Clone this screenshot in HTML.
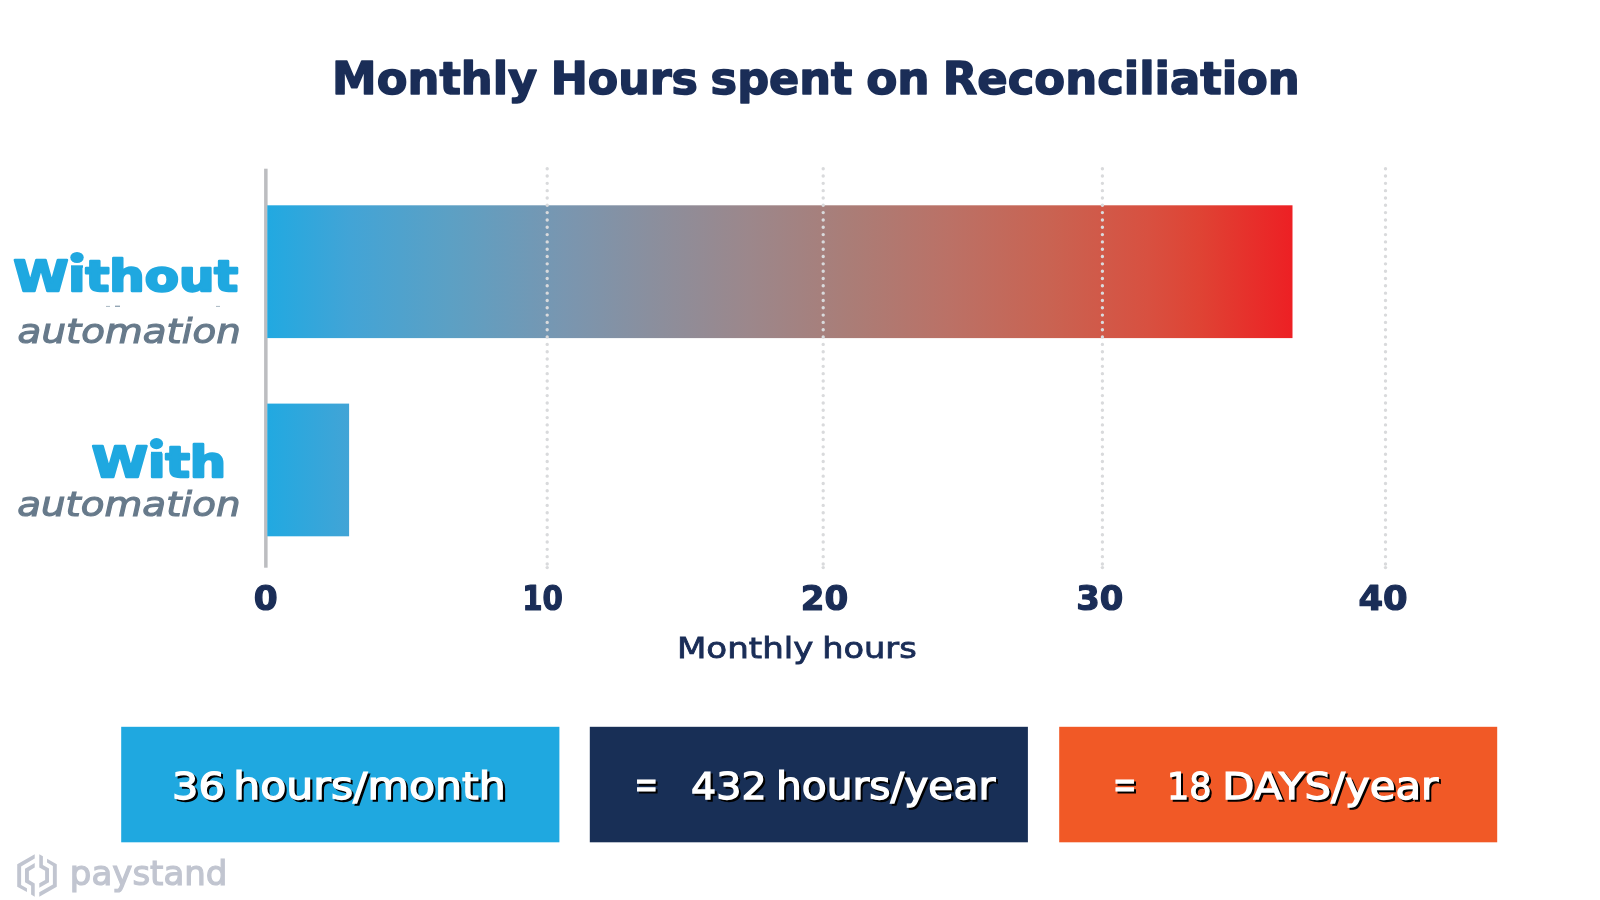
<!DOCTYPE html>
<html><head><meta charset="utf-8"><title>Monthly Hours spent on Reconciliation</title>
<style>
html,body{margin:0;padding:0;background:#fff;}
body{width:1600px;height:900px;overflow:hidden;position:relative;}
svg{position:absolute;left:0;top:0;display:block;will-change:transform;}
text{font-family:"DejaVu Sans","Liberation Sans",Arial,sans-serif;}
</style></head><body>
<svg width="1600" height="900" viewBox="0 0 1600 900">
<defs>
<linearGradient id="g" gradientUnits="userSpaceOnUse" x1="267" y1="0" x2="1292" y2="0">
<stop offset="0.0000" stop-color="#21A9E1"/>
<stop offset="0.0807" stop-color="#42A4D6"/>
<stop offset="0.1782" stop-color="#5CA0C4"/>
<stop offset="0.2904" stop-color="#7996B0"/>
<stop offset="0.3733" stop-color="#8A8F9E"/>
<stop offset="0.4708" stop-color="#9C878B"/>
<stop offset="0.5684" stop-color="#AA7D77"/>
<stop offset="0.6659" stop-color="#BB7166"/>
<stop offset="0.7635" stop-color="#C96352"/>
<stop offset="0.8610" stop-color="#D85040"/>
<stop offset="0.9098" stop-color="#DF4334"/>
<stop offset="1.0000" stop-color="#ED2024"/>
</linearGradient>
</defs>
<!-- title -->
<text id="tw1" x="332.13" y="94.4" font-size="44.5" font-weight="700" fill="#1A2D57" stroke="#1A2D57" stroke-width="1.5" stroke-linejoin="round" lengthAdjust="spacingAndGlyphs" textLength="205.12">Monthly</text>
<text id="tw2" x="550.63" y="94.4" font-size="44.5" font-weight="700" fill="#1A2D57" stroke="#1A2D57" stroke-width="1.5" stroke-linejoin="round" lengthAdjust="spacingAndGlyphs" textLength="147.29">Hours</text>
<text id="tw3" x="710.62" y="94.4" font-size="44.5" font-weight="700" fill="#1A2D57" stroke="#1A2D57" stroke-width="1.5" stroke-linejoin="round" lengthAdjust="spacingAndGlyphs" textLength="141.71">spent</text>
<text id="tw4" x="866.15" y="94.4" font-size="44.5" font-weight="700" fill="#1A2D57" stroke="#1A2D57" stroke-width="1.5" stroke-linejoin="round" lengthAdjust="spacingAndGlyphs" textLength="63.56">on</text>
<text id="tw5" x="942.78" y="94.4" font-size="44.5" font-weight="700" fill="#1A2D57" stroke="#1A2D57" stroke-width="1.5" stroke-linejoin="round" lengthAdjust="spacingAndGlyphs" textLength="357.06">Reconciliation</text>

<!-- axis -->
<rect x="264.1" y="168.7" width="3.5" height="399" fill="#BCBDC0"/>
<!-- bars -->
<rect x="267.3" y="205.3" width="1025.2" height="132.8" fill="url(#g)"/>
<rect x="267.3" y="403.6" width="81.8" height="132.7" fill="url(#g)"/>
<!-- grid dots -->
<g stroke="#D9DADC" stroke-width="3.4" stroke-linecap="round" stroke-dasharray="0 7.32" fill="none">
<line x1="547.2" y1="168.7" x2="547.2" y2="568"/>
<line x1="823.2" y1="168.7" x2="823.2" y2="568"/>
<line x1="1102.4" y1="168.7" x2="1102.4" y2="568"/>
<line x1="1385.5" y1="168.7" x2="1385.5" y2="568"/>
</g>
<g fill="#D9DADC">
<circle cx="547.2" cy="567.6" r="1.7"/>
<circle cx="823.2" cy="567.6" r="1.7"/>
<circle cx="1102.4" cy="567.6" r="1.7"/>
<circle cx="1385.5" cy="567.6" r="1.7"/>
</g>

<!-- row labels -->
<text id="without" x="13.43" y="290.5" font-size="43.5" font-weight="700" fill="#1FA8E0" stroke="#1FA8E0" stroke-width="2.4" stroke-linejoin="round" textLength="224.76" lengthAdjust="spacingAndGlyphs">Without</text>
<text id="auto1" x="17.63" y="342.5" font-size="33.4" font-style="italic" fill="#677A8B" stroke="#677A8B" stroke-width="1.1" textLength="223.15" lengthAdjust="spacingAndGlyphs">automation</text>
<text id="with" x="91.77" y="476.5" font-size="43.5" font-weight="700" fill="#1FA8E0" stroke="#1FA8E0" stroke-width="2.4" stroke-linejoin="round" textLength="134.38" lengthAdjust="spacingAndGlyphs">With</text>
<text id="auto2" x="17.19" y="515.6" font-size="33.4" font-style="italic" fill="#677A8B" stroke="#677A8B" stroke-width="1.1" textLength="223.33" lengthAdjust="spacingAndGlyphs">automation</text>
<!-- clipped remnants -->
<rect x="106" y="305.9" width="4" height="1" fill="#A9B7C3"/>
<rect x="115" y="305.6" width="5" height="1.4" fill="#93A6B5"/>
<rect x="216" y="305.9" width="4" height="1" fill="#A9B7C3"/>
<!-- round i-dots -->
<rect x="69.5" y="254" width="15" height="12.3" fill="#fff"/>
<rect x="71" y="265.3" width="12" height="2.5" fill="#1FA8E0"/>
<ellipse cx="77" cy="257.5" rx="6.7" ry="5.6" fill="#1FA8E0"/>
<rect x="149.5" y="440" width="14" height="12.6" fill="#fff"/>
<rect x="151" y="451.8" width="11" height="2.5" fill="#1FA8E0"/>
<ellipse cx="156.5" cy="443.6" rx="6.6" ry="5.6" fill="#1FA8E0"/>

<!-- tick labels -->
<g font-size="33.4" font-weight="700" fill="#1A2D57" stroke="#1A2D57" stroke-width="1.2" stroke-linejoin="round">
<text id="t0" x="253.74" y="610.4" textLength="23.94" lengthAdjust="spacingAndGlyphs">0</text>
<text id="t10" x="522.22" y="610.4" textLength="40.72" lengthAdjust="spacingAndGlyphs">10</text>
<text id="t20" x="800.79" y="610.4" textLength="47.47" lengthAdjust="spacingAndGlyphs">20</text>
<text id="t30" x="1076.34" y="610.4" textLength="47.05" lengthAdjust="spacingAndGlyphs">30</text>
<text id="t40" x="1358.47" y="610.4" textLength="49.19" lengthAdjust="spacingAndGlyphs">40</text>
</g>
<text id="mh1" x="676.96" y="658" font-size="28.8" font-weight="400" fill="#1A2D57" stroke="#1A2D57" stroke-width="0.8" lengthAdjust="spacingAndGlyphs" textLength="136.49">Monthly</text>
<text id="mh2" x="822.17" y="658" font-size="28.8" font-weight="400" fill="#1A2D57" stroke="#1A2D57" stroke-width="0.8" lengthAdjust="spacingAndGlyphs" textLength="94.53">hours</text>

<!-- boxes -->
<rect x="121.2" y="726.8" width="438.2" height="115.5" fill="#1FA8E0"/>
<rect x="589.8" y="726.8" width="438.1" height="115.5" fill="#182F56"/>
<rect x="1059.2" y="726.8" width="438" height="115.5" fill="#F15926"/>
<g font-size="36.4" font-weight="400" stroke-width="1.25">
<g id="shadowgrp" fill="#000" stroke="#000" transform="translate(2.1 2.1)">
<text x="172.05" y="798.5" textLength="52.78" lengthAdjust="spacingAndGlyphs">36</text>
<text x="233.25" y="798.5" textLength="272.57" lengthAdjust="spacingAndGlyphs">hours/month</text>
<text x="0" y="797" font-size="38" transform="matrix(0.74 0 0 1 634.4 0)">=</text>
<text x="691.09" y="798.5" textLength="75.48" lengthAdjust="spacingAndGlyphs">432</text>
<text x="775.93" y="798.5" textLength="219.22" lengthAdjust="spacingAndGlyphs">hours/year</text>
<text x="0" y="797" font-size="38" transform="matrix(0.74 0 0 1 1112.9 0)">=</text>
<text x="1166.95" y="798.5" textLength="44.50" lengthAdjust="spacingAndGlyphs">18</text>
<text x="1222.17" y="798.5" textLength="215.99" lengthAdjust="spacingAndGlyphs">DAYS/year</text>
</g>
<g id="whitegrp" fill="#fff" stroke="#fff">
<text id="b1a" x="172.05" y="798.5" textLength="52.78" lengthAdjust="spacingAndGlyphs">36</text>
<text id="b1b" x="233.25" y="798.5" textLength="272.57" lengthAdjust="spacingAndGlyphs">hours/month</text>
<text id="beq2" x="0" y="797" font-size="38" transform="matrix(0.74 0 0 1 634.4 0)">=</text>
<text id="b2a" x="691.09" y="798.5" textLength="75.48" lengthAdjust="spacingAndGlyphs">432</text>
<text id="b2b" x="775.93" y="798.5" textLength="219.22" lengthAdjust="spacingAndGlyphs">hours/year</text>
<text id="beq3" x="0" y="797" font-size="38" transform="matrix(0.74 0 0 1 1112.9 0)">=</text>
<text id="b3a" x="1166.95" y="798.5" textLength="44.50" lengthAdjust="spacingAndGlyphs">18</text>
<text id="b3b" x="1222.17" y="798.5" textLength="215.99" lengthAdjust="spacingAndGlyphs">DAYS/year</text>
</g>
</g>

<!-- paystand logo -->
<g transform="translate(10 850) scale(0.05556)" fill="#C1C5D0">
<g id="half">
<polygon points="445,75 130,255 130,660 305,757 305,690 200,628 200,295 445,155"/>
<polygon points="445,235 270,336 270,580 380,643 380,802 445,840 445,601 340,540 340,376 445,316"/>
</g>
<g transform="rotate(180 486 457.5)">
<polygon points="445,75 130,255 130,660 305,757 305,690 200,628 200,295 445,155"/>
<polygon points="445,235 270,336 270,580 380,643 380,802 445,840 445,601 340,540 340,376 445,316"/>
</g>
</g>
<text id="pay" x="69.84" y="885.2" font-size="34.2" fill="#C1C5D0" textLength="157.60" lengthAdjust="spacingAndGlyphs" stroke="#C1C5D0" stroke-width="1.2">paystand</text>
</svg>
</body></html>
